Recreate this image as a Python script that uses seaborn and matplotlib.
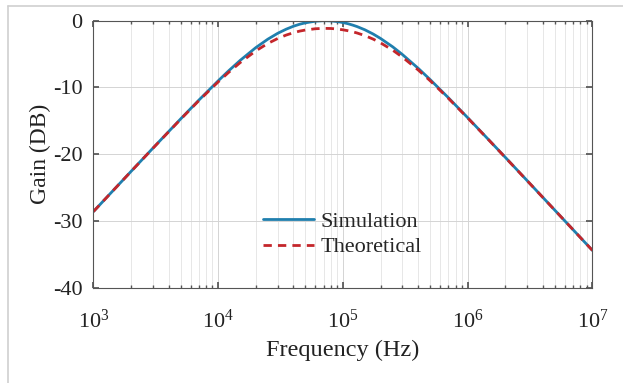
import matplotlib
matplotlib.use("Agg")
import matplotlib.pyplot as plt
import seaborn as sns
import pandas as pd
from matplotlib.ticker import LogLocator, FixedLocator
from matplotlib.lines import Line2D

# ---- data ----
freq_hz = [1e3, 2e3, 3e3, 5e3, 7e3, 1e4, 1.2e4, 1.5e4, 2e4, 2.5e4, 3e4, 3.5e4, 4e4,
           4.5e4, 5e4, 6e4, 7e4, 8e4, 9e4, 1e5, 1.1e5, 1.2e5, 1.3e5, 1.5e5, 1.75e5,
           2e5, 2.5e5, 3e5, 4e5, 5e5, 7e5, 1e6, 1.5e6, 2e6, 3e6, 5e6, 7e6, 1e7]
simulation_db = [-28.60, -22.59, -19.09, -14.72, -11.90, -9.01, -7.59, -5.95, -4.04,
                 -2.77, -1.89, -1.28, -0.84, -0.53, -0.32, -0.08, 0.00, -0.03, -0.13,
                 -0.28, -0.46, -0.67, -0.89, -1.37, -2.01, -2.66, -3.91, -5.08, -7.12,
                 -8.83, -11.55, -14.54, -18.00, -20.47, -23.98, -28.41, -31.33, -34.43]
theoretical_db = [-28.60, -22.60, -19.11, -14.77, -11.98, -9.17, -7.82, -6.28, -4.53,
                  -3.41, -2.67, -2.16, -1.81, -1.56, -1.40, -1.21, -1.15, -1.17, -1.25,
                  -1.37, -1.51, -1.67, -1.85, -2.24, -2.77, -3.32, -4.41, -5.47, -7.37,
                  -9.00, -11.64, -14.58, -18.02, -20.49, -23.99, -28.41, -31.33, -34.43]
series_names = ["Simulation", "Theoretical"]
y_ticks = [0, -10, -20, -30, -40]
x_ticks = [1e3, 1e4, 1e5, 1e6, 1e7]

df = pd.DataFrame({
    "Frequency": freq_hz * 2,
    "Gain": simulation_db + theoretical_db,
    "Series": [series_names[0]] * len(freq_hz) + [series_names[1]] * len(freq_hz),
})

sns.set_theme(style="white")
plt.rcParams["font.family"] = ["Liberation Serif", "DejaVu Serif"]
plt.rcParams["mathtext.fontset"] = "custom"
plt.rcParams["mathtext.rm"] = "Liberation Serif"
plt.rcParams["mathtext.it"] = "Liberation Serif:italic"
plt.rcParams["axes.unicode_minus"] = False

fig = plt.figure(figsize=(6.23, 3.83), dpi=100)
fig.patch.set_facecolor("white")
ax = fig.add_axes([0.150, 0.249, 0.801, 0.697])

colors = {"Simulation": "#1f7fae", "Theoretical": "#c4262b"}
sns.lineplot(data=df, x="Frequency", y="Gain", hue="Series", style="Series",
             palette=colors, dashes={"Simulation": "", "Theoretical": (3, 2.2)},
             linewidth=2.0, ax=ax, legend=False, sort=False)

ax.set_xscale("log")
ax.set_xlim(1e3, 1e7)
ax.set_ylim(-40, 0)
ax.xaxis.set_major_locator(FixedLocator(x_ticks))
ax.xaxis.set_minor_locator(LogLocator(base=10, subs=range(2, 10)))
ax.set_yticks(y_ticks)
ax.set_yticklabels([str(v) for v in y_ticks])

ax.grid(True, which="major", color="#d4d4d4", linewidth=0.7)
ax.grid(True, which="minor", axis="x", color="#e3e3e3", linewidth=0.6)
ax.set_axisbelow(True)

for s in ax.spines.values():
    s.set_visible(True)
    s.set_color("#555555")
    s.set_linewidth(0.8)

ax.tick_params(which="both", direction="in", top=True, right=True,
               bottom=True, left=True, color="#555555")
ax.tick_params(which="major", length=4, labelsize=16, pad=8)
ax.tick_params(which="minor", length=2.2)
ax.tick_params(axis="x", which="major", pad=16)

ax.set_xlabel("Frequency (Hz)", fontsize=17.5, color="#222222", labelpad=5)
ax.set_ylabel("Gain (DB)", fontsize=17, color="#222222", labelpad=1)
for lab in ax.get_xticklabels() + ax.get_yticklabels():
    lab.set_color("#222222")

handles = [Line2D([], [], color=colors["Simulation"], lw=2.0),
           Line2D([], [], color=colors["Theoretical"], lw=2.0, dashes=(3, 2.2))]
ax.legend(handles, series_names, loc="lower left", bbox_to_anchor=(0.322, 0.08),
          frameon=False, fontsize=16, handlelength=2.3, handletextpad=0.3,
          labelspacing=0.22, borderaxespad=0)

# screenshot frame
fig.add_artist(Line2D([8 / 623, 8 / 623], [0, 1 - 6 / 383], transform=fig.transFigure,
                      color="#cfcfcf", lw=1.2))
fig.add_artist(Line2D([8 / 623, 1], [1 - 6 / 383, 1 - 6 / 383], transform=fig.transFigure,
                      color="#cfcfcf", lw=1.2))

fig.savefig("out.png", dpi=100, facecolor="white")
